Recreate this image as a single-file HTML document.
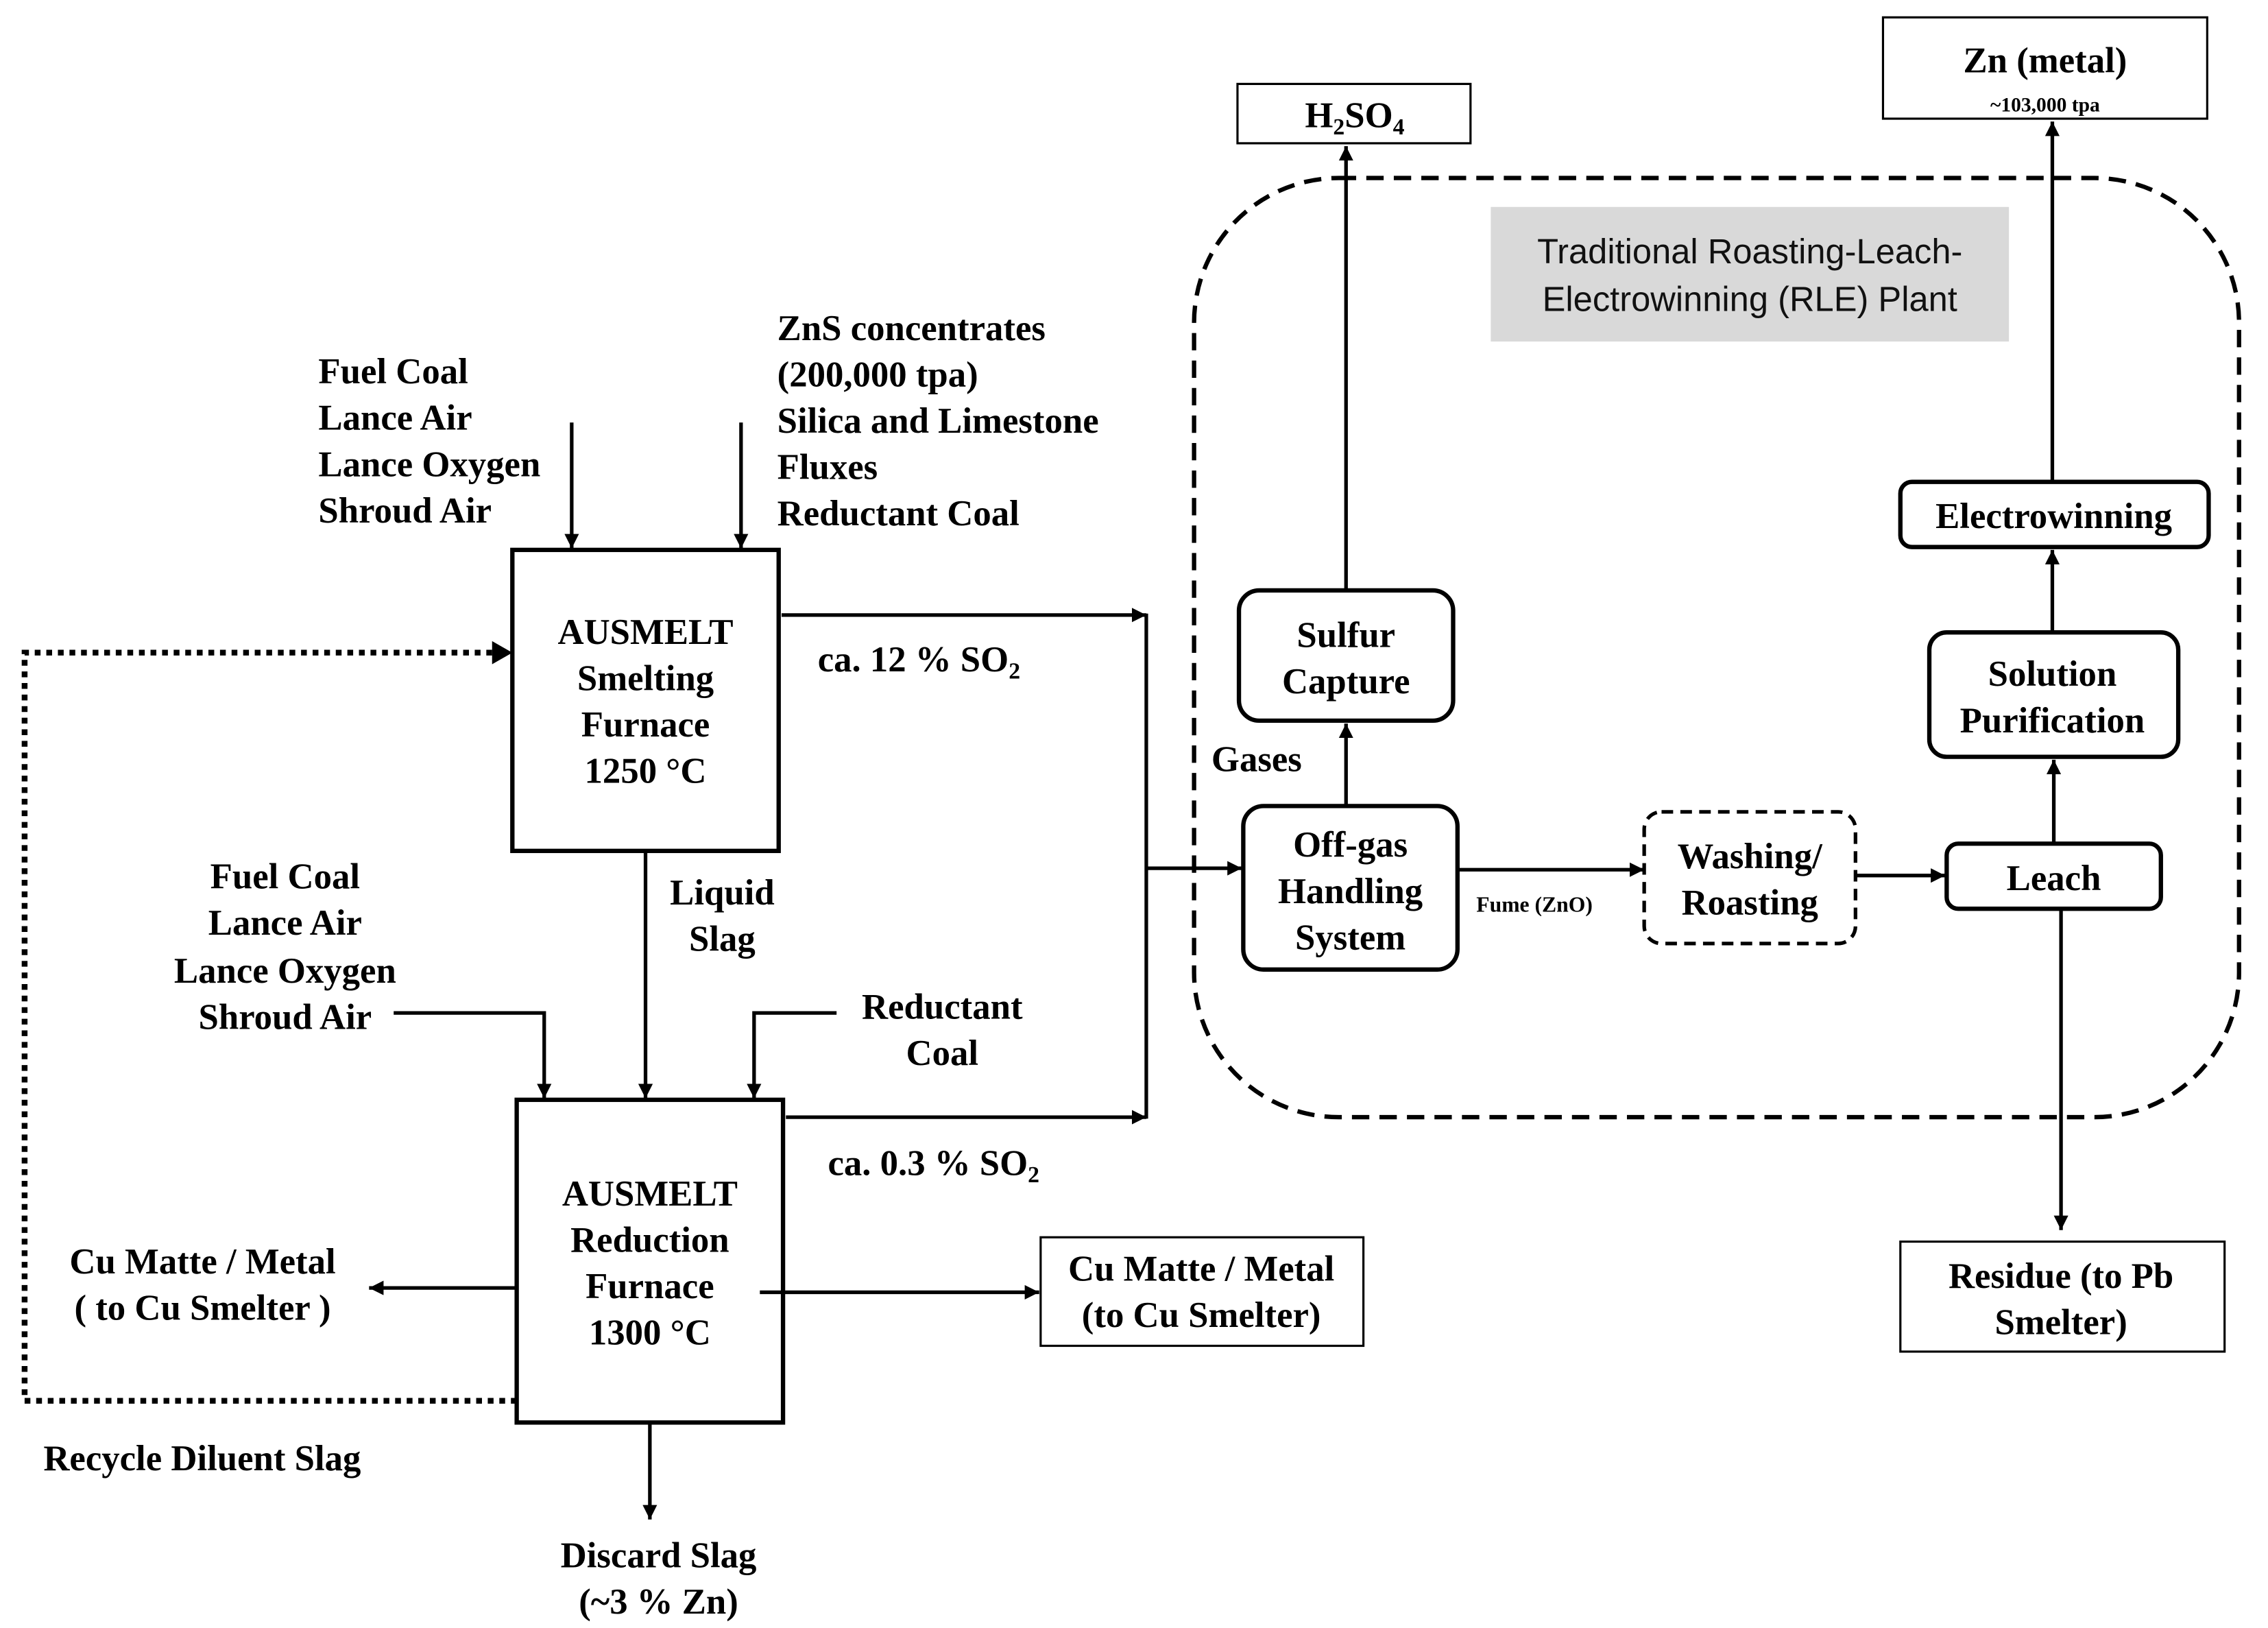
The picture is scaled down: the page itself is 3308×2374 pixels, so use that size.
<!DOCTYPE html>
<html><head><meta charset="utf-8"><style>
html,body{margin:0;padding:0;background:#fff;}
svg{display:block}
text{font-family:"Liberation Serif",serif;font-weight:bold;font-size:25px;fill:#000}
.s{font-family:"Liberation Sans",sans-serif;font-weight:normal;font-size:24px;fill:#111}
.c{text-anchor:middle}
</style></head><body>
<svg width="3308" height="2374" viewBox="0 0 1567 1125" preserveAspectRatio="none" xmlns="http://www.w3.org/2000/svg">
<defs>
<marker id="a" viewBox="0 0 10 10" refX="10" refY="5" markerWidth="4" markerHeight="4" orient="auto-start-reverse" markerUnits="strokeWidth"><path d="M0,0L10,5L0,10z" fill="#000"/></marker>
</defs>
<g fill="none" stroke="#000">
<rect x="354" y="380" width="184" height="208" stroke-width="3"/>
<rect x="357" y="760" width="184" height="223" stroke-width="3"/>
<g stroke-width="2.5">
<line x1="395" y1="292" x2="395" y2="379" marker-end="url(#a)"/>
<line x1="512" y1="292" x2="512" y2="379" marker-end="url(#a)"/>
<line x1="540" y1="425" x2="792" y2="425" marker-end="url(#a)"/>
<line x1="792" y1="424" x2="792" y2="773"/>
<line x1="792" y1="600" x2="858" y2="600" marker-end="url(#a)"/>
<line x1="543" y1="772" x2="792" y2="772" marker-end="url(#a)"/>
<line x1="446" y1="589" x2="446" y2="759" marker-end="url(#a)"/>
<polyline points="272,700 376,700 376,759" marker-end="url(#a)"/>
<polyline points="578,700 521,700 521,759" marker-end="url(#a)"/>
<line x1="357" y1="890" x2="255" y2="890" marker-end="url(#a)"/>
<line x1="525" y1="893" x2="718" y2="893" marker-end="url(#a)"/>
<line x1="449" y1="984" x2="449" y2="1050" marker-end="url(#a)"/>
</g>
<polyline points="357,968 17,968 17,451 340,451" stroke-width="4" stroke-dasharray="4,4"/>
<path d="M340,443 L354,451 L340,459z" fill="#000" stroke="none"/>
<rect x="719" y="855" width="223" height="75" stroke-width="1.5"/>
<rect x="825" y="123" width="722" height="649" rx="100" stroke-width="3" stroke-dasharray="12,7"/>
<rect x="1030" y="143" width="358" height="93" fill="#d9d9d9" stroke="none"/>
<rect x="855" y="58" width="161" height="41" stroke-width="1.5"/>
<rect x="1301" y="12" width="224" height="70" stroke-width="1.5"/>
<rect x="856" y="408" width="148" height="90" rx="14" stroke-width="3"/>
<rect x="859" y="557" width="148" height="113" rx="14" stroke-width="3"/>
<rect x="1136" y="561" width="146" height="91" rx="12" stroke-width="2.5" stroke-dasharray="8,5"/>
<rect x="1345" y="583" width="148" height="45" rx="8" stroke-width="3"/>
<rect x="1333" y="437" width="172" height="86" rx="12" stroke-width="3"/>
<rect x="1313" y="333" width="213" height="45" rx="8" stroke-width="3"/>
<rect x="1313" y="858" width="224" height="76" stroke-width="1.5"/>
<g stroke-width="2.5">
<line x1="930" y1="407" x2="930" y2="101" marker-end="url(#a)"/>
<line x1="930" y1="556" x2="930" y2="500" marker-end="url(#a)"/>
<line x1="1008" y1="601" x2="1136" y2="601" marker-end="url(#a)"/>
<line x1="1283" y1="605" x2="1344" y2="605" marker-end="url(#a)"/>
<line x1="1419" y1="582" x2="1419" y2="525" marker-end="url(#a)"/>
<line x1="1418" y1="436" x2="1418" y2="380" marker-end="url(#a)"/>
<line x1="1418" y1="332" x2="1418" y2="84" marker-end="url(#a)"/>
<line x1="1424" y1="629" x2="1424" y2="850" marker-end="url(#a)"/>
</g>
</g>
<text x="220" y="265">Fuel Coal</text>
<text x="220" y="297">Lance Air</text>
<text x="220" y="329">Lance Oxygen</text>
<text x="220" y="361">Shroud Air</text>
<text x="537" y="235">ZnS concentrates</text>
<text x="537" y="267">(200,000 tpa)</text>
<text x="537" y="299">Silica and Limestone</text>
<text x="537" y="331">Fluxes</text>
<text x="537" y="363">Reductant Coal</text>
<text class="c" x="446" y="445">AUSMELT</text>
<text class="c" x="446" y="477">Smelting</text>
<text class="c" x="446" y="509">Furnace</text>
<text class="c" x="446" y="541">1250 °C</text>
<text x="565" y="464">ca. 12 % SO<tspan font-size="16" dy="5">2</tspan></text>
<text x="572" y="812">ca. 0.3 % SO<tspan font-size="16" dy="5">2</tspan></text>
<text class="c" x="499" y="625">Liquid</text>
<text class="c" x="499" y="657">Slag</text>
<text class="c" x="197" y="614">Fuel Coal</text>
<text class="c" x="197" y="646">Lance Air</text>
<text class="c" x="197" y="679">Lance Oxygen</text>
<text class="c" x="197" y="711">Shroud Air</text>
<text class="c" x="651" y="704">Reductant</text>
<text class="c" x="651" y="736">Coal</text>
<text class="c" x="449" y="833">AUSMELT</text>
<text class="c" x="449" y="865">Reduction</text>
<text class="c" x="449" y="897">Furnace</text>
<text class="c" x="449" y="929">1300 °C</text>
<text class="c" x="140" y="880">Cu Matte / Metal</text>
<text class="c" x="140" y="912">( to Cu Smelter )</text>
<text class="c" x="830" y="885">Cu Matte / Metal</text>
<text class="c" x="830" y="917">(to Cu Smelter)</text>
<text x="30" y="1016">Recycle Diluent Slag</text>
<text class="c" x="455" y="1083">Discard Slag</text>
<text class="c" x="455" y="1115">(~3 % Zn)</text>
<text class="c s" x="1209" y="182">Traditional Roasting-Leach-</text>
<text class="c s" x="1209" y="215">Electrowinning (RLE) Plant</text>
<text class="c" x="936" y="88">H<tspan font-size="16" dy="5">2</tspan><tspan dy="-5">SO</tspan><tspan font-size="16" dy="5">4</tspan></text>
<text class="c" x="1413" y="50">Zn (metal)</text>
<text class="c" x="1413" y="77" style="font-size:14px">~103,000 tpa</text>
<text class="c" x="930" y="447">Sulfur</text>
<text class="c" x="930" y="479">Capture</text>
<text x="837" y="533">Gases</text>
<text class="c" x="933" y="592">Off-gas</text>
<text class="c" x="933" y="624">Handling</text>
<text class="c" x="933" y="656">System</text>
<text x="1020" y="630" style="font-size:15px">Fume (ZnO)</text>
<text class="c" x="1209" y="600">Washing/</text>
<text class="c" x="1209" y="632">Roasting</text>
<text class="c" x="1419" y="615">Leach</text>
<text class="c" x="1418" y="474">Solution</text>
<text class="c" x="1418" y="506">Purification</text>
<text class="c" x="1419" y="365">Electrowinning</text>
<text class="c" x="1424" y="890">Residue (to Pb</text>
<text class="c" x="1424" y="922">Smelter)</text>
</svg>
</body></html>
